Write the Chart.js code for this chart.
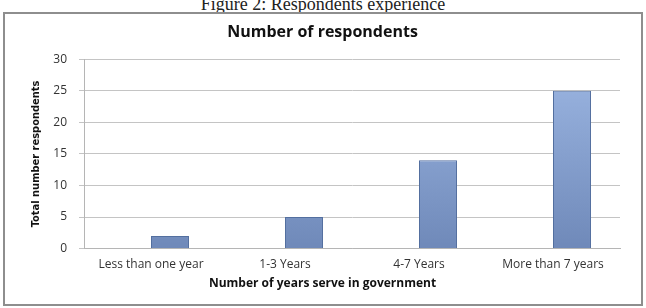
<!DOCTYPE html>
<html>
<head>
<meta charset="utf-8">
<script src="https://cdn.jsdelivr.net/npm/chart.js@4/dist/chart.umd.min.js"></script>
<style>
  html, body { margin: 0; padding: 0; background: #fff; }
  body { width: 646px; height: 308px; position: relative; overflow: hidden; }
  #caption {
    position: absolute; left: 0; top: -5px; width: 646px;
    text-align: center; font: 18px/18px "Liberation Serif", "DejaVu Serif", serif; color: #222;
  }
  #frame {
    position: absolute; left: 3px; top: 12px; width: 636px; height: 290px;
    border: 2px solid #8e8e8e; background: #fff;
  }
  #frame canvas { display: block; }
</style>
</head>
<body>
<div id="caption">Figure 2: Respondents experience</div>
<div id="frame"><canvas id="respondentsChart" width="636" height="290"></canvas></div>
<script>
// values
const categories = ['Less than one year', '1-3 Years', '4-7 Years', 'More than 7 years'];
const respondents = [2, 5, 14, 25];
// the source chart had an empty first series, which pushes each bar right of centre
const emptySeries = [null, null, null, null];
const yTicks = [0, 5, 10, 15, 20, 25, 30];

const barFill = (context) => {
  const { ctx, chartArea } = context.chart;
  if (!chartArea) return '#7f99c9';
  const g = ctx.createLinearGradient(0, chartArea.top, 0, chartArea.bottom);
  g.addColorStop(0, '#9db7e3');
  g.addColorStop(1, '#6f89b9');
  return g;
};

const ctx = document.getElementById('respondentsChart').getContext('2d');
new Chart(ctx, {
  type: 'bar',
  data: {
    labels: categories,
    datasets: [
      { label: 'blank', data: emptySeries, backgroundColor: 'rgba(0,0,0,0)', borderWidth: 0 },
      {
        label: 'Number of respondents',
        data: respondents,
        backgroundColor: barFill,
        borderColor: '#536f9f',
        borderWidth: 1,
      },
    ],
  },
  options: {
    responsive: false,
    animation: false,
    categoryPercentage: 0.567,
    barPercentage: 1,
    layout: { padding: { left: 20, right: 21, top: 0, bottom: 13 } },
    plugins: {
      legend: { display: false },
      tooltip: { enabled: false },
      title: {
        display: true,
        text: 'Number of respondents',
        color: '#111',
        font: { family: 'Open Sans', size: 16, weight: 'bold' },
        padding: { top: 9, bottom: 17 },
      },
      subtitle: {
        display: true,
        position: 'bottom',
        text: 'Number of years serve in government',
        color: '#111',
        font: { family: 'Open Sans', size: 12, weight: 'bold' },
        padding: { top: 3, bottom: 0 },
      },
    },
    scales: {
      x: {
        afterFit: (scale) => { scale.height = 25; },
        grid: { display: false },
        border: { display: true, color: '#b5b5b5', width: 1 },
        ticks: { color: '#333', font: { family: 'Open Sans', size: 12 }, padding: 1, maxRotation: 0, autoSkip: false },
      },
      y: {
        min: 0,
        max: 30,
        afterBuildTicks: (scale) => { scale.ticks = yTicks.map(v => ({ value: v })); },
        afterFit: (scale) => { scale.width = 59; },
        grid: { color: '#c4c4c4', lineWidth: 1, tickLength: 5 },
        border: { display: true, color: '#b5b5b5', width: 1 },
        ticks: { color: '#333', font: { family: 'Open Sans', size: 12 }, padding: 12 },
        title: {
          display: true,
          text: 'Total number respondents',
          color: '#111',
          font: { family: "'DejaVu Sans Condensed', 'Roboto Condensed', Roboto, sans-serif", size: 11, weight: 'bold' },
          padding: { top: 5, bottom: 0 },
        },
      },
    },
  },
});
</script>
</body>
</html>
